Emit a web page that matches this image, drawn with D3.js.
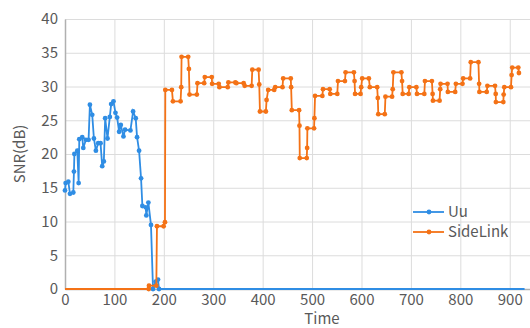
<!DOCTYPE html>
<html>
<head>
<meta charset="utf-8">
<script src="https://cdn.jsdelivr.net/npm/d3@7"></script>
<style>
  body { margin: 0; background: #fff; }
  svg { font-family: "Noto Sans CJK SC", "Noto Sans", sans-serif; }
</style>
</head>
<body>
<div id="chart"></div>
<script>
// Uu series
const uuTime = [0, 1.3, 6.7, 10.1, 16.8, 18.1, 19, 24.9, 27.6, 28.9, 34.9, 37, 42.3, 47.7, 50.4, 55.1,
  58.5, 62.5, 67.2, 71.9, 75.3, 78.6, 81.3, 86, 90.7, 93.4, 98.1, 102.1, 105.5, 109.5, 112.9,
  118.3, 121.6, 132.4, 137.8, 143.1, 145.8, 149.9, 153.9, 156.6, 163.3, 164.6, 168.7, 174,
  178.1, 183.5, 188.2, 190.2, 930];
const uuSnr = [14.6, 15.7, 15.9, 14.1, 14.3, 17.4, 20.0, 20.5, 15.7, 22.2, 22.5, 20.9, 22.1, 22.1, 27.3, 25.8,
  22.3, 20.5, 21.6, 21.6, 18.2, 18.9, 25.3, 22.3, 25.5, 27.4, 27.8, 26.1, 25.4, 23.3, 24.3,
  22.6, 23.6, 23.5, 26.3, 25.3, 22.5, 20.5, 16.4, 12.3, 12.1, 10.9, 12.8, 9.5,
  0, 1.1, 1.4, 0, 0];

// SideLink series
const slTime = [0, 169.5, 170, 184.8, 186.1, 199.6, 202.3, 203, 216.4, 218.4, 233.9, 235.2, 235.9, 249.3, 250.7,
  252, 266.8, 268.1, 281.6, 282.9, 297, 297.7, 311.1, 312.5, 329.3, 330.6, 344.7, 346.8, 361.5,
  363.6, 377.7, 379, 391.8, 393.1, 394.5, 406.5, 407.9, 411.2, 423.3, 425.4, 440.1, 441.5, 456.9,
  457.6, 459, 473.7, 474.5, 475.1, 489.2, 490, 490.5, 504, 504.7, 506, 520.8, 522.1, 535.6, 536.9,
  551, 552.4, 566.5, 567.8, 584.6, 586, 587, 598.1, 599.4, 601.4, 614.9, 616.9, 631.7, 633, 634,
  647.1, 648.5, 661.9, 663.2, 664.6, 680.7, 682.1, 683.4, 695.5, 696.8, 711, 712.3, 727.1, 728.4,
  742.5, 743.9, 744.6, 758, 759.3, 760, 774.1, 774.8, 789.6, 791, 804.4, 805.7, 819.8, 821.2,
  836.6, 838, 838.6, 853.4, 854.8, 870.2, 871.6, 872, 887, 887.7, 889, 902.5, 903.8, 905, 917.3, 918.6];
const slSnr = [0, 0, 0.5, 0.5, 9.3, 9.3, 9.9, 29.5, 29.5, 27.8, 27.8, 29.9, 34.4, 34.4, 32.6,
  28.8, 28.8, 30.5, 30.5, 31.4, 31.4, 30.4, 30.4, 29.9, 29.9, 30.6, 30.6, 30.5, 30.5,
  30.1, 30.1, 32.5, 32.5, 30.3, 26.3, 26.3, 28.0, 29.5, 29.5, 29.9, 29.9, 31.2, 31.2,
  29.9, 26.5, 26.5, 24.2, 19.4, 19.4, 20.9, 23.8, 23.8, 25.3, 28.6, 28.6, 29.6, 29.6, 28.9,
  28.9, 30.8, 30.8, 32.1, 32.1, 30.8, 28.9, 28.9, 29.9, 31.2, 31.2, 29.9, 29.9, 28.3, 25.9,
  25.9, 28.5, 28.5, 29.6, 32.1, 32.1, 30.8, 28.9, 28.9, 29.9, 29.9, 28.9, 28.9, 30.8,
  30.8, 28.9, 27.9, 27.9, 29.6, 30.4, 30.4, 29.2, 29.2, 30.4, 30.4, 31.2, 31.2, 33.6,
  33.6, 30.4, 29.2, 29.2, 30.1, 30.1, 28.9, 27.7, 27.7, 28.8, 29.9, 29.9, 31.7, 32.8, 32.8, 32.0];

const xTicks = [0, 100, 200, 300, 400, 500, 600, 700, 800, 900];
const yTicks = [0, 5, 10, 15, 20, 25, 30, 35, 40];
const seriesNames = ["Uu", "SideLink"];
const colors = ["#2f8de4", "#f47216"];

const width = 530, height = 328;
const margin = { top: 19, right: 0, bottom: 39, left: 65 };
const labelColor = "#595959";

const svg = d3.select("#chart").append("svg")
  .attr("width", width)
  .attr("height", height);

const xScale = d3.scaleLinear().domain([0, 941]).range([margin.left, width - margin.right]);
const yScale = d3.scaleLinear().domain([0, 40]).range([height - margin.bottom, margin.top]);

// gridlines
svg.append("g")
  .attr("transform", `translate(${margin.left},0)`)
  .call(d3.axisLeft(yScale).tickValues(yTicks).tickSize(-(width - margin.left)).tickFormat(""))
  .call(g => g.select(".domain").remove())
  .call(g => g.selectAll("line").attr("stroke", "#dcdcdc"));

svg.append("g")
  .attr("transform", `translate(0,${margin.top})`)
  .call(d3.axisTop(xScale).tickValues(xTicks).tickSize(-(height - margin.top - margin.bottom)).tickFormat(""))
  .call(g => g.select(".domain").remove())
  .call(g => g.selectAll("line").attr("stroke", "#dcdcdc"));

// axes
svg.append("g")
  .attr("transform", `translate(${margin.left},0)`)
  .call(d3.axisLeft(yScale).tickValues(yTicks).tickSize(0).tickPadding(7))
  .call(g => g.select(".domain").attr("stroke", "#b0b0b0").attr("stroke-width", 1.5))
  .call(g => g.selectAll("text").attr("fill", labelColor).attr("font-size", 15).attr("font-family", "Noto Sans CJK SC"));

svg.append("g")
  .attr("transform", `translate(0,${height - margin.bottom})`)
  .call(d3.axisBottom(xScale).tickValues(xTicks).tickSize(0).tickPadding(5))
  .call(g => g.select(".domain").attr("stroke", "#b0b0b0").attr("stroke-width", 1.5))
  .call(g => g.selectAll("text").attr("fill", labelColor).attr("font-size", 15).attr("font-family", "Noto Sans CJK SC"));

svg.append("text")
  .attr("x", xScale(520))
  .attr("y", height - 4)
  .attr("text-anchor", "middle")
  .attr("fill", labelColor)
  .attr("font-size", 15)
  .text("Time");

svg.append("text")
  .attr("transform", `translate(25,${(margin.top + height - margin.bottom) / 2}) rotate(-90)`)
  .attr("text-anchor", "middle")
  .attr("fill", labelColor)
  .attr("font-size", 15)
  .text("SNR(dB)");

const series = [
  { name: seriesNames[0], color: colors[0], pts: uuTime.map((t, i) => ({ t: t, v: uuSnr[i] })) },
  { name: seriesNames[1], color: colors[1], pts: slTime.map((t, i) => ({ t: t, v: slSnr[i] })) }
];

const line = d3.line().x(d => xScale(d.t)).y(d => yScale(d.v));

series.forEach(s => {
  svg.append("path")
    .datum(s.pts)
    .attr("fill", "none")
    .attr("stroke", s.color)
    .attr("stroke-width", 1.8)
    .attr("d", line);

  // no marker on the flat ends of the zero runs
  const marked = s.pts.filter((d, i) => !(d.v === 0 && (i === 0 || i === s.pts.length - 1)));
  svg.append("g").selectAll("circle")
    .data(marked)
    .join("circle")
    .attr("cx", d => xScale(d.t))
    .attr("cy", d => yScale(d.v))
    .attr("r", 2.4)
    .attr("fill", s.color);
});

// legend
const legend = svg.append("g").attr("transform", "translate(413,212)");
series.forEach((s, i) => {
  const row = legend.append("g").attr("transform", `translate(0,${i * 20})`);
  row.append("line").attr("x1", 0).attr("x2", 31).attr("y1", 0).attr("y2", 0)
    .attr("stroke", s.color).attr("stroke-width", 1.8);
  row.append("circle").attr("cx", 16).attr("cy", 0).attr("r", 2.4).attr("fill", s.color);
  row.append("text").attr("x", 35).attr("y", 5)
    .attr("fill", labelColor).attr("font-size", 15).text(s.name);
});
</script>
</body>
</html>
